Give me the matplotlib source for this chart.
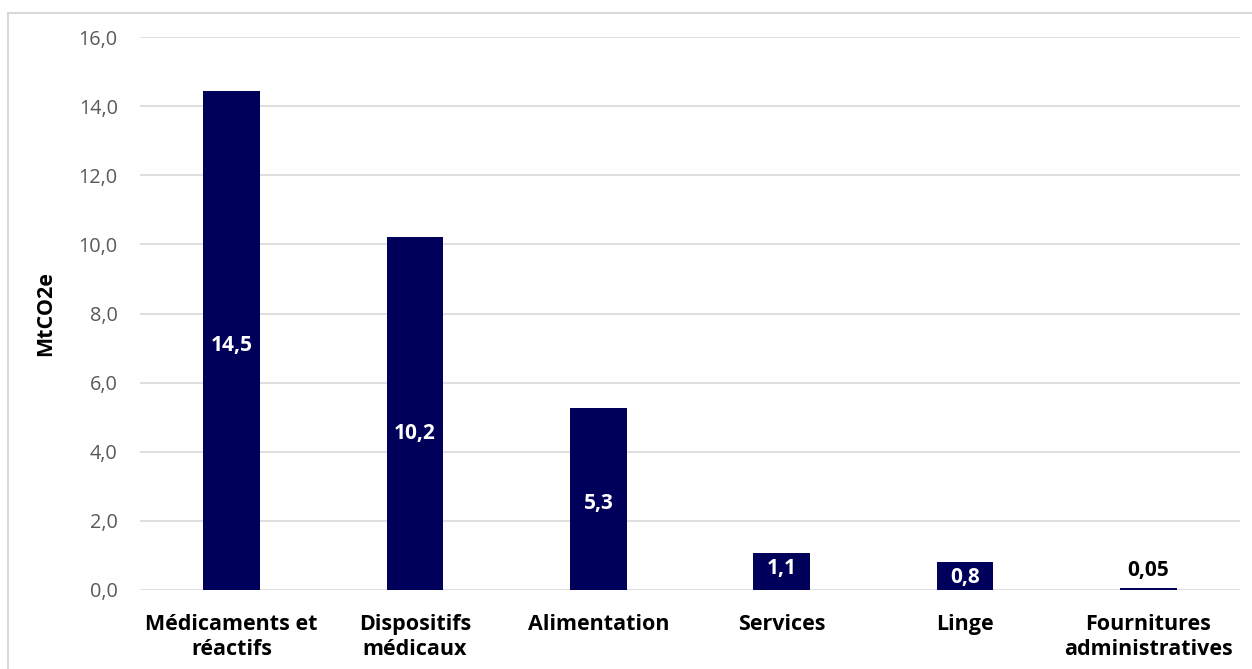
import matplotlib.pyplot as plt
from matplotlib.patches import Rectangle

plt.rcParams['font.family'] = ['Open Sans', 'DejaVu Sans']

categories = ['Médicaments et\nréactifs', 'Dispositifs\nmédicaux', 'Alimentation',
              'Services', 'Linge', 'Fournitures\nadministratives']
values = [14.45, 10.2, 5.26, 1.08, 0.8, 0.05]
value_labels = ['14,5', '10,2', '5,3', '1,1', '0,8', '0,05']
y_ticks = [0, 2, 4, 6, 8, 10, 12, 14, 16]

bar_color = '#00005A'
# décalage vertical des étiquettes (points), comme dans le graphique Excel
label_shift = [-4, -14, -3, 2, -1, 0]

fig = plt.figure(figsize=(12.52, 6.69), dpi=100)
# cadre gris clair autour du graphique
fig.patches.append(Rectangle((8 / 1252, -0.1), 1.2, 1.1 - 13 / 669, transform=fig.transFigure,
                             fill=False, edgecolor='#d9d9d9', linewidth=1.5))

ax = fig.add_axes([140 / 1252, 1 - 590 / 669, 1100 / 1252, 553 / 669])
x = range(len(categories))
bars = ax.bar(x, values, width=0.31, color=bar_color, zorder=3)

ax.set_xlim(-0.5, len(categories) - 0.5)
ax.set_ylim(0, 16)
ax.set_yticks(y_ticks)
ax.set_yticklabels([f'{t:.1f}'.replace('.', ',') for t in y_ticks], color='#595959', fontsize=14.3)
ax.set_xticks(list(x))
ax.set_xticklabels(categories, fontsize=15.5, fontweight='bold', color='black', linespacing=1.3)
ax.tick_params(axis='both', length=0)
ax.tick_params(axis='y', pad=16)
ax.tick_params(axis='x', pad=17)
ax.grid(axis='y', color='#d9d9d9', linewidth=1.2, zorder=0)
for s in ax.spines.values():
    s.set_visible(False)

ax.set_ylabel('MtCO2e', fontsize=15.5, fontweight='bold', color='black', labelpad=16)

# étiquettes de valeurs
for i, (v, lab) in enumerate(zip(values, value_labels)):
    if v >= 0.5:
        ax.annotate(lab, (i, v / 2), xytext=(0, label_shift[i]), textcoords='offset points',
                    ha='center', va='center', color='white',
                    fontsize=15, fontweight='bold', zorder=4)
    else:
        ax.text(i, v + 0.2, lab, ha='center', va='bottom', color='black',
                fontsize=15, fontweight='bold', zorder=4)

plt.savefig('out.png', dpi=100)
